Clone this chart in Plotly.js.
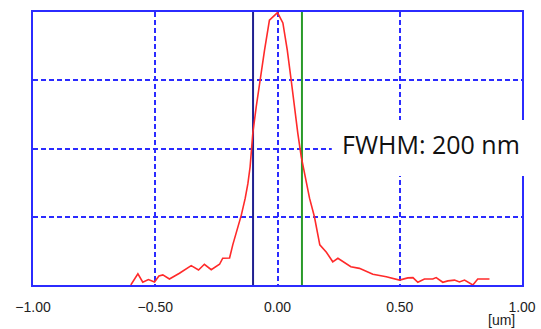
<!DOCTYPE html>
<html>
<head>
<meta charset="utf-8">
<script src="https://cdn.plot.ly/plotly-3.0.1.min.js"></script>
<style>html,body{margin:0;padding:0;background:#fff;}#chart{width:541px;height:329px;}</style>
</head>
<body>
<div id="chart"></div>
<script>
// Line profile (position in um, normalized intensity)
const positionUm = [-0.6, -0.571, -0.551, -0.528, -0.503, -0.485, -0.469, -0.442, -0.401, -0.353, -0.323, -0.299, -0.271, -0.237, -0.224, -0.196, -0.183, -0.162, -0.148, -0.132, -0.121, -0.112, -0.101, -0.087, -0.074, -0.053, -0.033, -0.019, 0.0, 0.022, 0.04, 0.056, 0.07, 0.083, 0.097, 0.112, 0.131, 0.151, 0.173, 0.2, 0.226, 0.247, 0.28, 0.3, 0.335, 0.39, 0.445, 0.499, 0.533, 0.554, 0.574, 0.601, 0.635, 0.649, 0.676, 0.697, 0.724, 0.744, 0.765, 0.799, 0.819, 0.867];
const intensity = [0.0, 0.041, 0.01, 0.02, 0.011, 0.033, 0.037, 0.022, 0.043, 0.071, 0.055, 0.076, 0.056, 0.076, 0.098, 0.099, 0.147, 0.208, 0.256, 0.318, 0.372, 0.433, 0.556, 0.653, 0.739, 0.86, 0.97, 0.983, 0.998, 0.96, 0.86, 0.75, 0.641, 0.556, 0.47, 0.4, 0.318, 0.25, 0.147, 0.12, 0.085, 0.098, 0.079, 0.067, 0.061, 0.039, 0.03, 0.018, 0.026, 0.027, 0.01, 0.022, 0.022, 0.027, 0.01, 0.015, 0.018, 0.011, 0.018, 0.0, 0.022, 0.022];
// FWHM cursor positions
const fwhmLeft = -0.1;
const fwhmRight = 0.1;
const fwhmLabel = "FWHM: 200 nm";
const xTicks = [-1, -0.5, 0, 0.5, 1];
const xUnit = "[um]";

const blue = '#2b2bff';
const traces = [
  {x: [fwhmLeft, fwhmLeft], y: [0, 1], mode: 'lines', line: {color: '#202090', width: 2}, hoverinfo: 'skip'},
  {x: [fwhmRight, fwhmRight], y: [0, 1], mode: 'lines', line: {color: '#2a9a2a', width: 2}, hoverinfo: 'skip'},
  {x: positionUm, y: intensity, mode: 'lines', line: {color: '#ff2a2a', width: 1.6}, hoverinfo: 'skip'}
];

const layout = {
  width: 541, height: 329,
  margin: {l: 33, r: 19, t: 12, b: 44},
  paper_bgcolor: '#fff', plot_bgcolor: '#fff',
  showlegend: false,
  xaxis: {
    range: [-1, 1], tickvals: xTicks, tickformat: '.2f',
    showline: true, mirror: true, linecolor: blue, linewidth: 2,
    showgrid: true, gridcolor: blue, gridwidth: 2, griddash: '5px,3px',
    zeroline: false, ticks: '', ticklabelstandoff: 8,
    tickfont: {family: 'Liberation Sans, Arial, sans-serif', size: 14, color: '#222'}
  },
  yaxis: {
    range: [0, 1], tickvals: [0.25, 0.5, 0.75], showticklabels: false,
    showline: true, mirror: true, linecolor: blue, linewidth: 2,
    showgrid: true, gridcolor: blue, gridwidth: 2, griddash: '5px,3px',
    zeroline: false, ticks: ''
  },
  shapes: [
    {type: 'rect', xref: 'paper', yref: 'paper', x0: 0.611, x1: 1.06, y0: 0.399, y1: 0.604,
     fillcolor: '#fff', line: {width: 0}, layer: 'above'}
  ],
  annotations: [
    {text: fwhmLabel, xref: 'paper', yref: 'paper', x: 0.814, y: 0.516, showarrow: false,
     xanchor: 'center', yanchor: 'middle', font: {family: 'Open Sans, sans-serif', size: 25, color: '#111'}},
    {text: xUnit, xref: 'paper', yref: 'paper', x: 0.959, y: -0.129, showarrow: false, borderpad: 0,
     xanchor: 'center', yanchor: 'middle', font: {family: 'Liberation Sans, Arial, sans-serif', size: 14, color: '#222'}}
  ]
};
Plotly.newPlot('chart', traces, layout, {staticPlot: true});
</script>
</body>
</html>
